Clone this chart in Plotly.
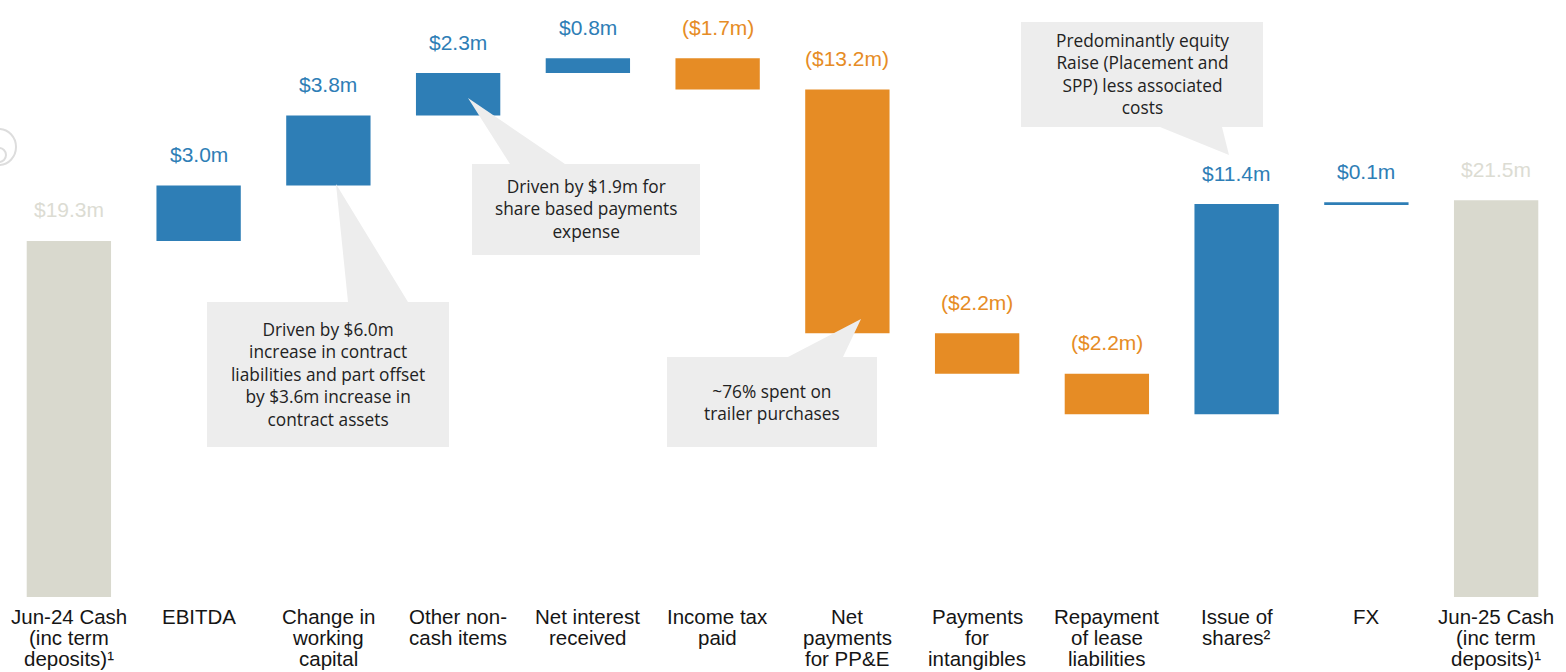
import plotly.graph_objects as go

# ---------------- data ----------------
categories = [
    "Jun-24 Cash\n(inc term\ndeposits)¹",
    "EBITDA",
    "Change in\nworking\ncapital",
    "Other non-\ncash items",
    "Net interest\nreceived",
    "Income tax\npaid",
    "Net\npayments\nfor PP&E",
    "Payments\nfor\nintangibles",
    "Repayment\nof lease\nliabilities",
    "Issue of\nshares²",
    "FX",
    "Jun-25 Cash\n(inc term\ndeposits)¹",
]
values = [19.3, 3.0, 3.8, 2.3, 0.8, -1.7, -13.2, -2.2, -2.2, 11.4, 0.1, 21.5]
measures = ["absolute"] + ["relative"] * 10 + ["absolute"]
value_labels = ["$19.3m", "$3.0m", "$3.8m", "$2.3m", "$0.8m", "($1.7m)", "($13.2m)",
                "($2.2m)", "($2.2m)", "$11.4m", "$0.1m", "$21.5m"]

callout_texts = [
    "Driven by $1.9m for<br>share based payments<br>expense",
    "Driven by $6.0m<br>increase in contract<br>liabilities and part offset<br>by $3.6m increase in<br>contract assets",
    "~76% spent on<br>trailer purchases",
    "Predominantly equity<br>Raise (Placement and<br>SPP) less associated<br>costs",
]

# ---------------- style ----------------
BLUE = "#2e7eb6"
ORANGE = "#e68c25"
GREY = "#d9d9ce"
GREY_TXT = "#dcdcd3"
BOX = "#ededed"

W, H = 1566, 672
ML, MR, MT, MB = 4, 5, 0, 75
PX_PER_M = 18.45
plot_h = H - MT - MB
plot_w = W - ML - MR


def px(x):
    return (x - ML) / plot_w


def py(y):
    return (H - MB - y) / plot_h


fig = go.Figure()
fig.add_trace(go.Waterfall(
    x=categories,
    y=values,
    measure=measures,
    width=0.65,
    increasing=dict(marker=dict(color=BLUE)),
    decreasing=dict(marker=dict(color=ORANGE)),
    totals=dict(marker=dict(color=GREY)),
    connector=dict(visible=False),
    hoverinfo="skip",
))

annotations = []
# value labels above each bar
running = 0.0
for cat, v, m, lab in zip(categories, values, measures, value_labels):
    if m == "absolute":
        top = v
        running = v
        col = GREY_TXT
    else:
        new = running + v
        top = max(running, new)
        running = new
        col = BLUE if v >= 0 else ORANGE
    annotations.append(dict(x=cat, y=top, xref="x", yref="y", text=lab, showarrow=False,
                            yanchor="middle", yshift=31,
                            font=dict(family="Liberation Sans, Arial, sans-serif", size=21, color=col)))

# category labels, one annotation per line for tight line spacing
for cat in categories:
    for i, line in enumerate(cat.split("\n")):
        annotations.append(dict(x=cat, y=0, xref="x", yref="paper", text=line, showarrow=False,
                                yanchor="middle", yshift=-(19 + 21 * i),
                                font=dict(family="Liberation Sans, Arial, sans-serif",
                                          size=20.5, color="#151515")))

# callout boxes (pixel layout): box x0,x1,y0,y1, pointer base xa,xb, tip, side
callouts = [
    dict(box=(472, 700, 164, 255), base=(510, 565), tip=(468, 98), side="top"),
    dict(box=(207, 449, 302, 447), base=(348, 408), tip=(336, 184), side="top"),
    dict(box=(667, 877, 357, 447), base=(788, 843), tip=(861, 319), side="top"),
    dict(box=(1021, 1263, 22, 127), base=(1160, 1222), tip=(1229, 155), side="bottom"),
]
shapes = []
for c, txt in zip(callouts, callout_texts):
    x0, x1, y0, y1 = c["box"]
    a, b = c["base"]
    tx, ty = c["tip"]
    if c["side"] == "top":
        pts = [(x0, y0), (a, y0), (tx, ty), (b, y0), (x1, y0), (x1, y1), (x0, y1)]
    else:
        pts = [(x0, y0), (x1, y0), (x1, y1), (b, y1), (tx, ty), (a, y1), (x0, y1)]
    path = "M " + " L ".join(f"{px(X):.5f},{py(Y):.5f}" for X, Y in pts) + " Z"
    shapes.append(dict(type="path", path=path, xref="paper", yref="paper",
                       fillcolor=BOX, line=dict(width=0), layer="above"))
    annotations.append(dict(x=px((x0 + x1) / 2), y=py((y0 + y1) / 2), xref="paper", yref="paper",
                            text=txt, showarrow=False, align="center",
                            xanchor="center", yanchor="middle",
                            font=dict(family="Open Sans, Lato, sans-serif", size=17.3, color="#222222")))

# faint logo fragment at the left edge
shapes.append(dict(type="circle", xref="paper", yref="paper",
                   x0=px(-18), x1=px(16), y0=py(165), y1=py(129),
                   line=dict(color="#dddddd", width=2), fillcolor="rgba(0,0,0,0)", layer="above"))
shapes.append(dict(type="circle", xref="paper", yref="paper",
                   x0=px(-8), x1=px(6), y0=py(162), y1=py(148),
                   line=dict(color="#dddddd", width=2), fillcolor="rgba(0,0,0,0)", layer="above"))

fig.update_layout(
    width=W, height=H,
    margin=dict(l=ML, r=MR, t=MT, b=MB),
    paper_bgcolor="white", plot_bgcolor="white",
    showlegend=False,
    hovermode=False,
    xaxis=dict(showticklabels=False, showgrid=False, zeroline=False, showline=False, ticks=""),
    yaxis=dict(range=[0, plot_h / PX_PER_M], visible=False, showgrid=False, zeroline=False),
    annotations=annotations,
    shapes=shapes,
)

fig.write_html("out.html", post_script="document.body.style.margin='0';",
               config={"displayModeBar": False})
